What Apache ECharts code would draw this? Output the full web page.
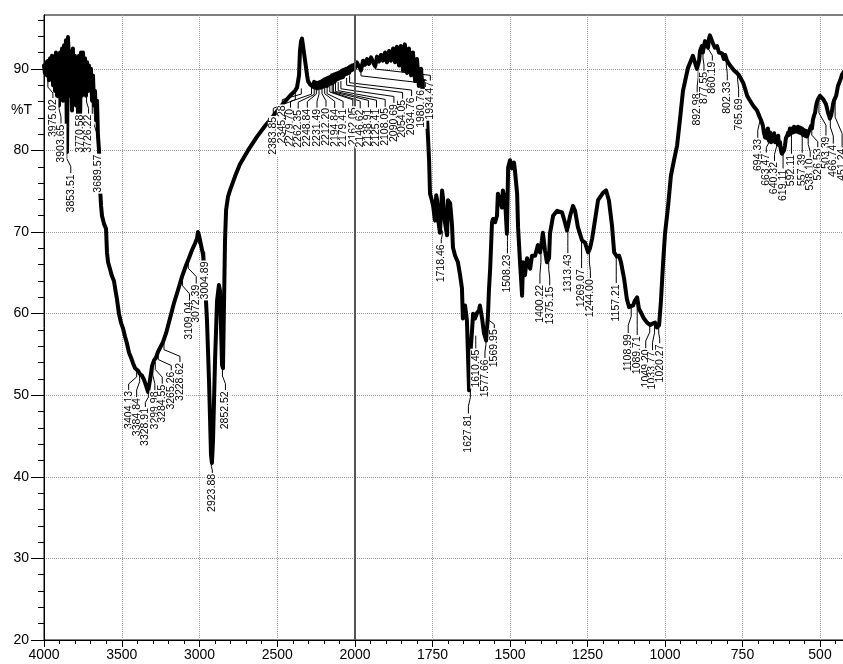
<!DOCTYPE html>
<html>
<head>
<meta charset="utf-8">
<title>IR spectrum</title>
<script src="https://cdn.jsdelivr.net/npm/echarts@6.0.0/dist/echarts.min.js"></script>
<style>
  html, body { margin: 0; padding: 0; background: #fff; }
  #chart { width: 843px; height: 664px; }
</style>
</head>
<body>
<div id="chart"></div>
<script>
// trace: wavenumber (cm-1) and %T
const wavenumber = [
  4000, 3994, 3987, 3981, 3974, 3968, 3961, 3955, 3949, 3942, 3936, 3929, 3923, 3916, 3910, 3904,
  3897, 3891, 3884, 3878, 3871, 3865, 3859, 3852, 3846, 3839, 3833, 3826, 3820, 3814, 3807, 3801,
  3794, 3788, 3781, 3775, 3768, 3762, 3756, 3749, 3743, 3736, 3730, 3723, 3717, 3711, 3704, 3698,
  3691, 3685, 3678, 3672, 3666, 3659, 3653, 3646, 3640, 3633, 3627, 3614, 3601, 3595, 3588, 3576,
  3563, 3550, 3540, 3531, 3518, 3505, 3492, 3479, 3466, 3453, 3440, 3427, 3414, 3404, 3395, 3383,
  3370, 3357, 3344, 3331, 3318, 3305, 3292, 3280, 3267, 3254, 3235, 3215, 3190, 3164, 3138, 3113,
  3087, 3068, 3048, 3029, 3016, 3010, 3003, 2990, 2977, 2965, 2952, 2939, 2926, 2920, 2913, 2900,
  2887, 2875, 2868, 2855, 2849, 2842, 2836, 2829, 2817, 2804, 2772, 2740, 2688, 2630, 2579, 2527,
  2482, 2450, 2418, 2386, 2373, 2360, 2354, 2347, 2341, 2334, 2321, 2308, 2302, 2289, 2270, 2263,
  2257, 2251, 2244, 2238, 2231, 2225, 2218, 2212, 2206, 2199, 2193, 2186, 2180, 2173, 2167, 2161,
  2154, 2148, 2141, 2135, 2129, 2122, 2116, 2109, 2103, 2096, 2090, 2083, 2077, 2071, 2064, 2058,
  2051, 2045, 2038, 2032, 2026, 2019, 2013, 2006, 2000,
  1994, 1987, 1981, 1974, 1968, 1961, 1955, 1948, 1942, 1935, 1929, 1923, 1916, 1910, 1903, 1897,
  1890, 1884, 1877, 1871, 1865, 1858, 1852, 1845, 1839, 1832, 1826, 1819, 1813, 1806, 1800, 1794,
  1787, 1781, 1774, 1768, 1761, 1758, 1752, 1748, 1742, 1738, 1735, 1732, 1726, 1719, 1716, 1710,
  1703, 1700, 1693, 1687, 1684, 1677, 1668, 1661, 1655, 1652, 1645, 1639, 1632, 1629, 1626, 1623,
  1619, 1613, 1606, 1600, 1597, 1590, 1584, 1577, 1571, 1568, 1564, 1558, 1555, 1548, 1542, 1539,
  1532, 1526, 1523, 1516, 1510, 1506, 1500, 1494, 1487, 1484, 1477, 1474, 1468, 1461, 1458, 1452,
  1445, 1435, 1429, 1419, 1410, 1403, 1397, 1394, 1387, 1381, 1374, 1371, 1361, 1348, 1332, 1323,
  1316, 1306, 1297, 1290, 1281, 1268, 1258, 1248, 1242, 1235, 1226, 1216, 1200, 1190, 1181, 1171,
  1164, 1155, 1148, 1142, 1132, 1123, 1116, 1110, 1103, 1097, 1090, 1084, 1077, 1068, 1058, 1048,
  1039, 1032, 1026, 1019, 1013, 1006, 1000, 990, 981, 971, 961, 952, 942, 926, 910, 897,
  894, 890, 887, 881, 878, 871, 865, 861, 858, 855, 848, 845, 839, 832, 826, 823,
  816, 810, 806, 800, 794, 790, 784, 777, 771, 768, 761, 755, 748, 742, 735, 729,
  723, 716, 710, 703, 697, 694, 690, 684, 681, 677, 674, 671, 668, 665, 661, 658,
  655, 652, 648, 645, 642, 639, 635, 632, 629, 626, 623, 619, 616, 613, 610, 606,
  603, 600, 597, 594, 590, 587, 584, 581, 577, 574, 571, 568, 564, 561, 558, 555,
  552, 548, 545, 542, 539, 535, 532, 529, 526, 523, 519, 516, 513, 510, 506, 503,
  500, 497, 494, 490, 487, 484, 481, 477, 474, 471, 468, 464, 461, 458, 455, 452,
  448, 445, 442, 439, 436, 432, 429, 426, 420
];
const transmittance = [
  90.4, 89.5, 90.8, 89.2, 91.0, 88.6, 91.3, 89.8, 91.6, 88.0, 91.5, 87.3, 92.0, 86.7, 91.6, 85.5,
  92.0, 87.3, 92.5, 86.1, 92.9, 89.2, 93.5, 79.8, 93.9, 91.0, 86.7, 92.2, 84.9, 92.5, 86.1, 91.6,
  85.5, 90.8, 84.3, 91.6, 83.9, 92.0, 86.7, 92.0, 88.0, 91.3, 86.7, 90.8, 87.3, 90.4, 87.6, 90.0,
  86.1, 89.2, 85.5, 87.3, 83.7, 86.1, 81.8, 80.0, 75.5, 73.2, 72.0, 71.0, 70.4, 67.5, 66.3, 65.5,
  64.6, 64.0, 62.8, 61.8, 60.0, 58.9, 58.2, 57.2, 56.3, 55.2, 54.6, 53.9, 53.3, 53.4, 53.0, 52.6,
  52.4, 51.9, 51.2, 50.4, 51.9, 53.6, 54.3, 54.6, 55.3, 55.8, 56.5, 57.6, 59.4, 61.3, 62.9, 64.5,
  65.9, 66.8, 67.8, 68.6, 69.2, 70.0, 69.6, 68.4, 67.2, 64.1, 59.2, 51.9, 42.7, 41.7, 44.5, 54.3,
  61.6, 63.5, 62.8, 53.7, 53.3, 61.6, 68.9, 72.7, 74.3, 75.1, 76.8, 78.3, 80.0, 81.7, 83.0, 84.2,
  85.3, 86.0, 86.7, 87.3, 87.7, 89.2, 92.2, 93.4, 93.7, 92.8, 91.0, 89.2, 88.5, 88.1, 87.8, 88.4,
  87.7, 88.3, 87.6, 88.3, 87.7, 88.4, 87.7, 88.5, 87.8, 88.7, 87.9, 88.8, 87.9, 88.9, 88.1, 89.0,
  88.2, 89.2, 88.3, 89.3, 88.5, 89.4, 88.7, 89.5, 88.8, 89.6, 88.9, 89.8, 89.0, 89.9, 89.3, 90.0,
  89.4, 90.1, 89.5, 90.3, 89.8, 90.4, 89.9, 90.5, 90.1,
  90.8, 90.3, 89.8, 91.0, 90.5, 91.2, 90.6, 91.4, 90.8, 90.3, 91.5, 90.9, 91.7, 91.0, 92.0, 90.8,
  92.2, 91.0, 92.5, 90.8, 92.7, 90.4, 92.8, 89.8, 93.0, 89.5, 92.5, 89.2, 92.0, 88.5, 91.2, 87.9,
  90.0, 87.3, 88.5, 84.3, 78.8, 74.7, 73.9, 73.2, 71.4, 74.5, 73.9, 71.6, 69.9, 75.1, 74.1, 71.2,
  69.6, 73.9, 73.5, 70.8, 68.1, 67.1, 66.3, 64.7, 63.1, 59.4, 61.0, 59.2, 50.6, 50.8, 56.1, 57.6,
  60.0, 59.4, 60.1, 60.4, 61.0, 59.4, 57.6, 56.7, 59.8, 62.8, 65.5, 71.2, 71.6, 71.2, 72.0, 74.7,
  73.9, 73.0, 75.1, 73.9, 69.8, 77.9, 78.8, 77.8, 78.5, 77.5, 74.7, 70.6, 66.5, 62.2, 66.3, 64.7,
  66.8, 65.5, 67.1, 67.1, 68.4, 67.5, 69.0, 69.9, 67.7, 66.3, 66.8, 69.8, 72.0, 72.6, 72.4, 71.2,
  70.2, 72.0, 73.2, 72.6, 70.6, 69.0, 68.7, 67.5, 68.0, 69.2, 71.4, 73.9, 74.8, 75.1, 73.9, 70.8,
  67.5, 67.0, 67.1, 66.3, 64.3, 61.8, 60.8, 60.8, 61.0, 61.6, 62.0, 60.6, 60.1, 59.4, 58.9, 58.6,
  58.8, 58.9, 58.3, 58.6, 61.6, 66.3, 69.8, 73.2, 76.9, 78.8, 80.6, 83.7, 87.3, 90.1, 91.6, 90.0,
  89.8, 91.0, 92.2, 92.8, 92.0, 93.4, 93.2, 92.6, 93.7, 94.1, 93.4, 93.1, 92.6, 92.8, 92.0, 92.2,
  91.9, 91.2, 91.7, 91.0, 91.2, 90.4, 90.4, 89.8, 90.0, 89.5, 89.2, 89.0, 88.3, 87.6, 86.7, 86.3,
  86.1, 85.5, 85.4, 84.9, 84.3, 84.5, 83.7, 83.0, 82.2, 81.6, 82.4, 81.5, 82.7, 81.2, 82.2, 81.0,
  81.8, 81.2, 82.1, 81.0, 81.6, 81.2, 81.8, 80.6, 81.0, 80.0, 79.6, 79.4, 80.0, 80.6, 81.5, 81.8,
  82.2, 81.9, 82.7, 82.1, 82.7, 82.2, 82.9, 82.3, 82.8, 82.3, 82.9, 82.2, 82.8, 82.1, 82.7, 81.9,
  82.5, 81.8, 82.4, 81.7, 81.5, 82.4, 82.2, 83.0, 82.7, 83.7, 84.3, 84.6, 85.4, 85.9, 86.3, 86.1,
  86.7, 86.5, 86.7, 86.3, 86.5, 86.1, 85.7, 85.1, 84.6, 84.3, 83.9, 84.3, 84.9, 85.7, 86.1, 85.9,
  86.7, 87.3, 87.9, 88.2, 88.5, 88.9, 89.3, 89.5, 89.8
];

// picked peaks (cm-1) and the %T where each leader leaves the trace
const peakLabels = [
  "3975.02", "3903.65", "3853.51", "3770.58", "3726.22", "3689.57",
  "3404.13", "3384.84", "3328.91", "3299.98", "3284.55", "3265.26", "3228.62",
  "3109.04", "3072.39", "3004.89", "2923.88", "2852.52",
  "2383.85", "2345.28", "2279.70", "2262.35", "2248.84", "2231.49", "2212.20", "2194.84",
  "2179.41", "2162.05", "2146.62", "2138.91", "2125.41", "2108.05", "2090.69", "2054.05",
  "2034.76", "1980.76", "1934.47",
  "1718.46", "1627.81", "1610.45", "1577.66", "1569.95", "1508.23", "1400.22", "1375.15",
  "1313.43", "1269.07", "1244.00", "1157.21", "1108.99", "1089.71", "1049.20", "1033.77",
  "1020.27", "892.98", "877.55", "860.19", "802.33", "765.69", "694.33", "663.47", "640.32",
  "619.11", "592.11", "557.39", "538.10", "526.53", "503.39", "466.74", "451.24"
];
const peakT = [
  88.5, 86.1, 80.0, 86.1, 86.7, 86.1,
  53.1, 52.7, 50.4, 53.4, 54.1, 55.1, 56.4,
  64.4, 66.6, 69.7, 41.7, 53.3,
  87.3, 87.6, 87.8, 87.8, 87.8, 87.8, 87.8, 87.9,
  87.9, 88.1, 88.2, 88.2, 88.3, 88.4, 88.5, 88.9,
  89.2, 90.0, 90.75,
  70.2, 50.8, 57.3, 57.1, 59.8, 69.8, 67.7, 66.5,
  70.2, 69.0, 67.4, 66.9, 60.8, 61.4, 58.8, 58.8,
  58.3, 89.8, 92.2, 93.2, 91.5, 89.8, 84.6, 81.8, 81.4,
  79.6, 82.4, 82.4, 81.6, 82.7, 86.1, 84.0, 86.1
];
// label placement relative to the peak, in px (label centre x, label top y)
const labelDx = [
  5, 2, 4, 0, 2, 6,
  -8, -3, -3, 2, 7, 13, 16,
  7, 8, 6, 1, 3,
  -22, -19, -21, -16, -9, -2, 4, 10,
  16, 23, 28, 35, 41, 47, 53, 56,
  62, 60, 55,
  -1, -2, 0, -1, 6, 0, -1, 1,
  0, 0, 1, 0, -3, 0, -4, -2,
  1, -1, 1, 4, 1, 1, -2, -3, -2,
  0, 0, 0, 2, 6, 7, 3, 7
];
const labelDy = [
  17, 23, 23, 13, 18, 53,
  20, 24, 15, 23, 22, 17, 19,
  23, 24, 26, 10, 22,
  25, 16, 21, 22, 21, 21, 20, 22,
  22, 22, 25, 24, 25, 25, 22, 21,
  21, 20, 18,
  13, 25, 13, 21, 13, 20, 33, 25,
  23, 28, 25, 26, 26, 33, 25, 27,
  16, 22, 20, 18, 24, 27, 25, 17, 22,
  15, 23, 22, 20, 19, 35, 26, 47
];

const xTicksHigh = [4000, 3500, 3000, 2500, 2000];
const xTicksLow = [1750, 1500, 1250, 1000, 750, 500];
const yTicks = [20, 30, 40, 50, 60, 70, 80, 90];

const axisFont = "'Liberation Sans Narrow', 'Liberation Sans', Arial, sans-serif";
const labelFont = "'Liberation Sans', Arial, sans-serif";

const pts = wavenumber.map((w, i) => [w, transmittance[i]]);
const highPart = pts.filter((p) => p[0] >= 2000);
const lowPart = pts.filter((p) => p[0] <= 2000);

const chart = echarts.init(document.getElementById("chart"), null, { renderer: "canvas" });

const gridLine = { show: true, lineStyle: { color: "#999", type: "dotted", width: 1 } };
const blackLine = { color: "#000", width: 1 };

function xAxisFor(gridIndex, min, max, interval, ticks) {
  return {
    gridIndex,
    type: "value",
    inverse: true,
    min,
    max,
    interval,
    axisLine: { show: true, onZero: false, lineStyle: blackLine },
    axisTick: { show: true, length: 7, lineStyle: blackLine, customValues: ticks },
    minorTick: { show: true, splitNumber: 5, length: 4, lineStyle: blackLine },
    axisLabel: {
      customValues: ticks,
      formatter: (v) => String(v),
      color: "#000",
      fontFamily: axisFont,
      fontSize: 14,
      margin: 8,
    },
    splitLine: gridLine,
  };
}

function yAxisFor(gridIndex, visible) {
  return {
    gridIndex,
    type: "value",
    min: 20,
    max: 96.6,
    interval: 10,
    axisLine: { show: visible, lineStyle: blackLine },
    axisTick: { show: visible, length: 13, lineStyle: blackLine, customValues: yTicks },
    minorTick: { show: visible, splitNumber: 5, length: 6, lineStyle: blackLine },
    axisLabel: {
      show: visible,
      customValues: yTicks,
      formatter: (v) => String(v),
      color: "#000",
      fontFamily: axisFont,
      fontSize: 14,
      margin: 15,
    },
    splitLine: gridLine,
  };
}

const traceStyle = { color: "#000", width: 4, cap: "round", join: "round" };

chart.setOption({
  animation: false,
  backgroundColor: "#fff",
  grid: [
    {
      left: 44, top: 15, width: 311, bottom: 24,
      outerBoundsMode: "none", containLabel: false,
      show: true, borderColor: "#000", borderWidth: 1,
    },
    // low-wavenumber half runs on to 250 past the right edge so ticks stay on 250s
    {
      left: 355, top: 15, width: 542.5, bottom: 24,
      outerBoundsMode: "none", containLabel: false,
      show: true, borderColor: "#000", borderWidth: 1,
    },
  ],
  xAxis: [
    xAxisFor(0, 2000, 4000, 500, xTicksHigh),
    xAxisFor(1, 250, 2000, 250, xTicksLow),
  ],
  yAxis: [yAxisFor(0, true), yAxisFor(1, false)],
  series: [
    {
      type: "line",
      xAxisIndex: 0,
      yAxisIndex: 0,
      data: highPart,
      symbol: "none",
      lineStyle: traceStyle,
      z: 3,
      markLine: {
        silent: true,
        symbol: "none",
        label: { show: false },
        lineStyle: { color: "#555", type: "solid", width: 2 },
        data: [{ xAxis: 2000 }],
      },
    },
    {
      type: "line",
      xAxisIndex: 1,
      yAxisIndex: 1,
      data: lowPart,
      symbol: "none",
      lineStyle: traceStyle,
      z: 3,
    },
  ],
});

// peak labels with leaders, placed from the axes' own pixel mapping
const graphic = [
  {
    type: "text",
    left: 11,
    top: 103,
    style: { text: "%T", font: "14px " + axisFont, fill: "#000" },
  },
];
peakLabels.forEach((txt, i) => {
  const wn = parseFloat(txt);
  const g = wn > 2000 ? 0 : 1;
  const [px, py] = chart.convertToPixel({ gridIndex: g }, [wn, peakT[i]]);
  const lx = px + labelDx[i];
  const ly = py + labelDy[i];
  const dy = labelDy[i];
  graphic.push({
    type: "polyline",
    z: 1,
    shape: { points: [[px, py], [px, py + dy * 0.35], [lx, py + dy * 0.7], [lx, ly]] },
    style: { stroke: "#000", lineWidth: 1, fill: "none" },
  });
  graphic.push({
    type: "text",
    z: 50,
    x: lx,
    y: ly,
    rotation: Math.PI / 2,
    style: {
      text: txt,
      align: "right",
      verticalAlign: "middle",
      fontSize: 10.5,
      fontFamily: labelFont,
      fill: "#000",
      backgroundColor: "#fff",
      padding: [0, 1],
    },
  });
});
chart.setOption({ graphic });
</script>
</body>
</html>
